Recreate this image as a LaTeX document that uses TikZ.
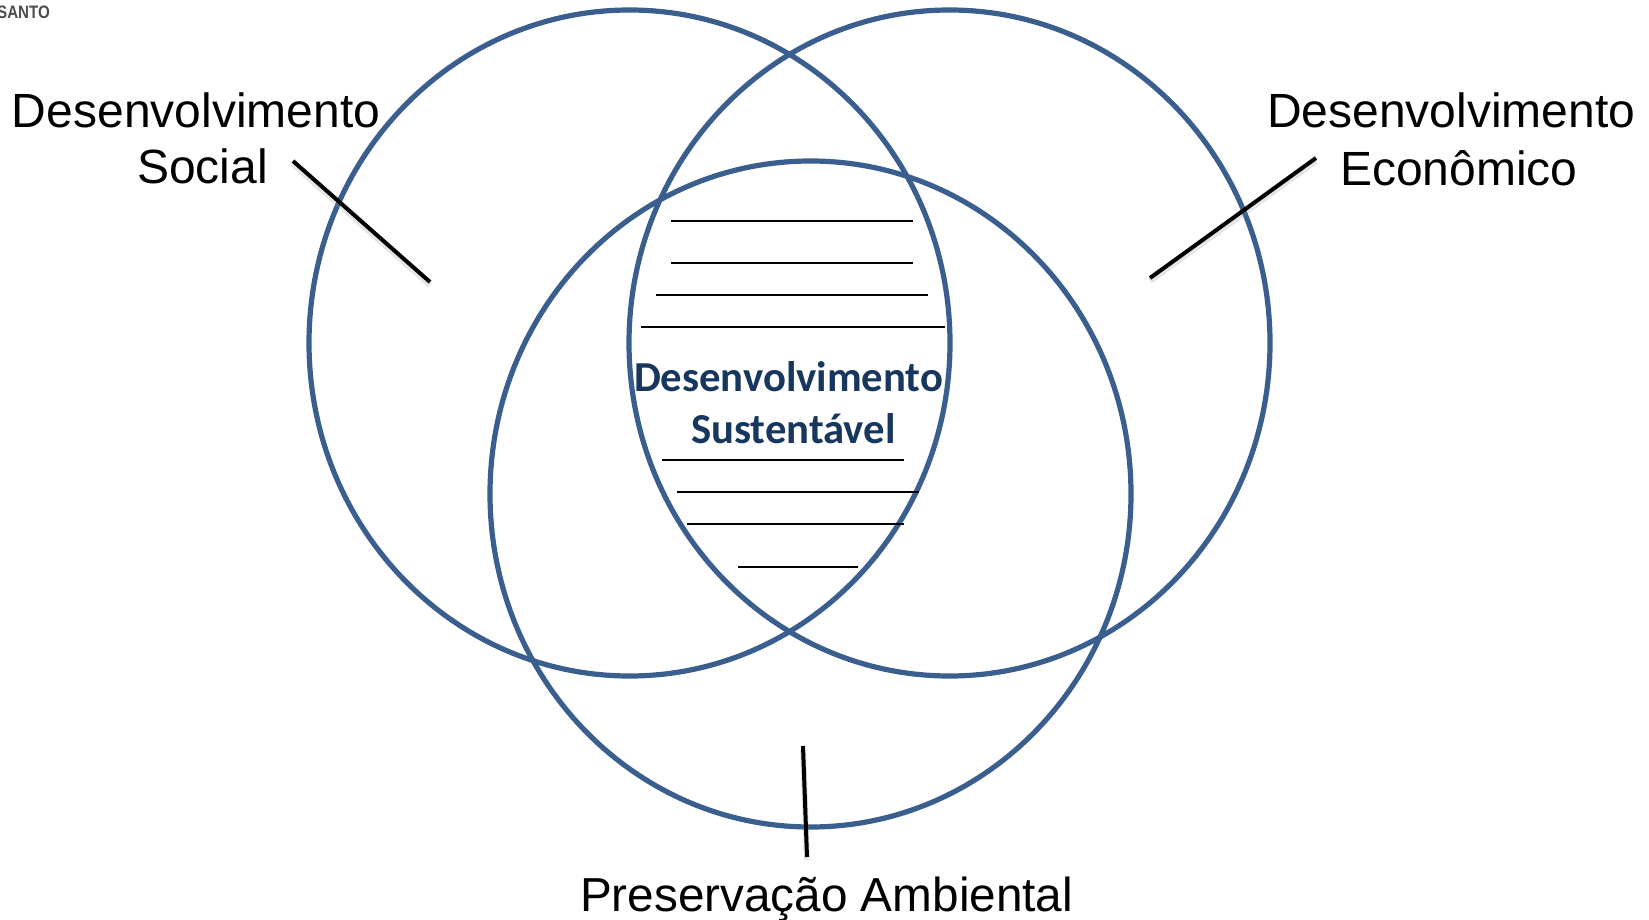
\documentclass[tikz,border=0pt]{standalone}
\usepackage{fontspec}
\setmainfont{Liberation Sans}
\newfontfamily\carlitofont{Carlito}
\usetikzlibrary{shapes.geometric}
\definecolor{ringblue}{HTML}{3A5F8E}
\definecolor{titleblue}{HTML}{17375E}
\tikzset{
  ring/.style={ellipse,draw=ringblue,line width=5.2pt,inner sep=0pt,outer sep=0pt,minimum width=641pt,minimum height=666pt},
  label/.style={anchor=base west,inner sep=0pt,outer sep=0pt,font=\fontsize{48}{57}\selectfont,text=black},
  title/.style={anchor=base west,inner sep=0pt,outer sep=0pt,font=\carlitofont\bfseries\fontsize{42.7}{50}\selectfont,text=titleblue},
  leader/.style={line width=4pt,black},
  leadershadow/.style={line width=6pt,black!45,opacity=.22},
  hatch/.style={line width=2.2pt,black}
}
\begin{document}
\begin{tikzpicture}[x=1pt,y=-1pt]
\useasboundingbox (0,0) rectangle (1649,920);
\fill[white] (0,0) rectangle (1649,920);
% logo fragment
\node[anchor=base west,inner sep=0pt,text=black!70,font=\bfseries\fontsize{18}{20}\selectfont,xscale=.84] (logo) at (-3,19) {SANTO};
% circles
\node[ring] (social) at (629.5,343) {};
\node[ring] (economico) at (949.5,343) {};
\node[ring] (ambiental) at (810.5,494) {};
% hatch lines
\foreach \y/\a/\b in {221/671/913,263/671/913,295/656/928,327/641/945,460/662/904,492/677/919,524/687/904,567/738/858}
  \draw[hatch] (\a,\y) -- (\b,\y);
% labels
\node[label] (ds1) at (12,128) {Desenvolvimento};
\node[label] (ds2) at (137,184) {Social};
\node[label] (de1) at (1267,128) {Desenvolvimento};
\node[label] (de2) at (1340,186) {Econômico};
\node[label,font=\fontsize{47.7}{57}\selectfont] (pa) at (580,911) {Preservação Ambiental};
\node[title] (t1) at (634,391) {Desenvolvimento};
\node[title] (t2) at (691,443) {Sustentável};
% leader ends
\coordinate (la) at (293,161); \coordinate (lb) at (430,282);
\coordinate (ra) at (1316,158); \coordinate (rb) at (1150,278);
\coordinate (ba) at (803,746); \coordinate (bb) at (807,857);
\foreach \p/\q in {la/lb,ra/rb,ba/bb}{
  \draw[leadershadow] ([yshift=-3pt]\p) -- ([yshift=-3pt]\q);
}
\foreach \p/\q in {la/lb,ra/rb,ba/bb}{
  \draw[leader] (\p) -- (\q);
}
\end{tikzpicture}
\end{document}
